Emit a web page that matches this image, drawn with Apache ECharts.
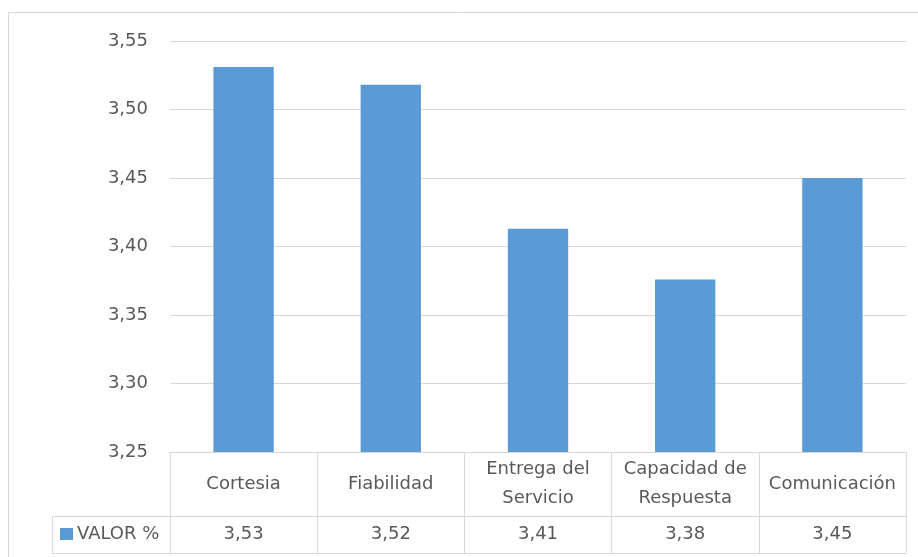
<!DOCTYPE html>
<html>
<head>
<meta charset="utf-8">
<script src="https://cdn.jsdelivr.net/npm/echarts@6/dist/echarts.min.js"></script>
<style>html,body{margin:0;padding:0;background:#fff}#c{width:918px;height:557px}</style>
</head>
<body>
<div id="c"></div>
<script>
var categories = ['Cortesia', 'Fiabilidad', 'Entrega del\nServicio', 'Capacidad de\nRespuesta', 'Comunicación'];
var values = [3.531, 3.518, 3.413, 3.376, 3.45];
var seriesName = 'VALOR %';
var yTicks = {min: 3.25, max: 3.55, interval: 0.05};

function fmt(v) { return v.toFixed(2).replace('.', ','); }
var tableLabels = values.map(fmt);

var FONT = 'DejaVu Sans';
var TXT = '#595959';
var LINE = '#d9d9d9';

var chart = echarts.init(document.getElementById('c'), null, {renderer: 'canvas'});
chart.setOption({
  animation: false,
  backgroundColor: '#fff',
  grid: {left: 170, right: 12, top: 41, bottom: 105, containLabel: false},
  legend: {
    data: [seriesName], left: 60, top: 525, padding: 0, itemWidth: 13, itemHeight: 12,
    icon: 'rect', selectedMode: false, itemGap: 0,
    textStyle: {fontFamily: FONT, fontSize: 18, color: TXT, padding: [0,0,0,-1]}
  },
  xAxis: [
    {
      type: 'category', data: categories, position: 'bottom',
      axisLine: {show: true, lineStyle: {color: LINE, width: 1}},
      axisTick: {show: true, length: 101, interval: 0, lineStyle: {color: LINE, width: 1}},
      axisLabel: {interval: 0, margin: 32, verticalAlign: 'middle', fontFamily: FONT, fontSize: 18, color: TXT, lineHeight: 29}
    },
    {
      type: 'category', data: tableLabels, position: 'bottom', offset: 64,
      axisLine: {show: true, lineStyle: {color: LINE, width: 1}},
      axisTick: {show: false},
      axisLabel: {interval: 0, margin: 18, verticalAlign: 'middle', fontFamily: FONT, fontSize: 18, color: TXT}
    },
    {
      type: 'category', data: tableLabels, position: 'bottom', offset: 101,
      axisLine: {show: true, lineStyle: {color: LINE, width: 1}},
      axisTick: {show: false}, axisLabel: {show: false}
    }
  ],
  yAxis: {
    type: 'value', min: yTicks.min, max: yTicks.max, interval: yTicks.interval,
    axisLine: {show: false}, axisTick: {show: false},
    splitLine: {lineStyle: {color: LINE, width: 1}},
    axisLabel: {margin: 22, fontFamily: FONT, fontSize: 18, color: TXT, formatter: fmt}
  },
  series: [{
    name: seriesName, type: 'bar', data: values, xAxisIndex: 0,
    barWidth: '41%', itemStyle: {color: '#5b9bd5'}
  }],
  graphic: [
    {type: 'rect', shape: {x: 8.5, y: 12.5, width: 930, height: 560}, style: {fill: 'none', stroke: LINE, lineWidth: 1}, silent: true},
    {type: 'polyline', shape: {points: [[170, 516.5], [52.5, 516.5], [52.5, 553.5], [170, 553.5]]}, style: {fill: 'none', stroke: LINE, lineWidth: 1}, silent: true}
  ]
});
</script>
</body>
</html>
